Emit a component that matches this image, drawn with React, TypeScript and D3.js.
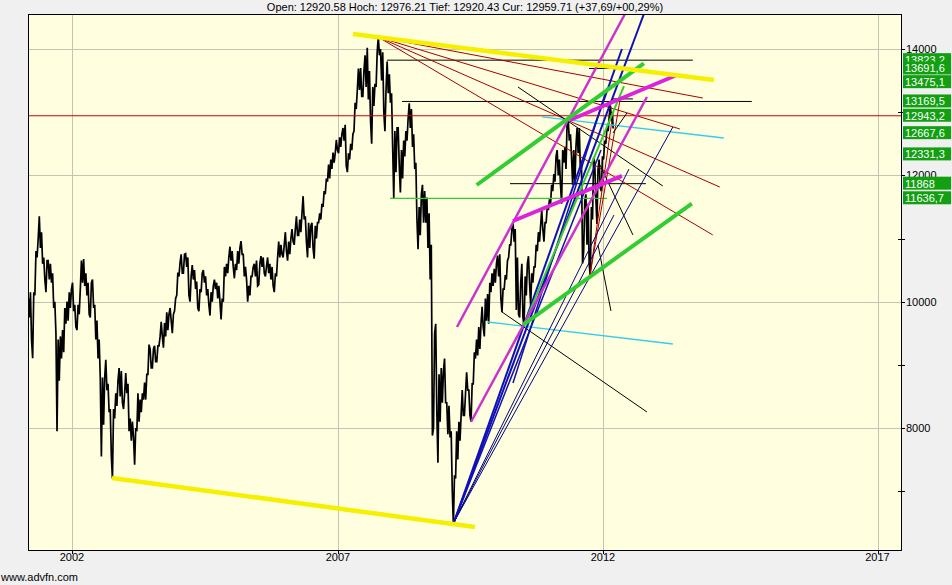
import * as d3 from "d3";

const W = 952;
const H = 585;
const PLOT = { left: 29, right: 901, top: 14, bottom: 550 };
const FONT = "'Liberation Sans', Arial, sans-serif";

// x axis: years, y axis: index points
const YEAR_TICKS = [2002, 2007, 2012, 2017];
const PRICE_TICKS = [7000, 8000, 9000, 10000, 11000, 12000, 13000, 14000];
const PRICE_LABELED = [8000, 10000, 12000, 14000];

const DATA_START = 2001.19; // 12 Mar 2001
const DATA_END = 2012.19; // 12 Mar 2012

// half-month [high, low] pairs
const Y2001 = [
  [10050, 9750], [10150, 9389], [10150, 9106], [10800, 10100], [11000, 10700], [11350, 10850],
  [11100, 10600], [10700, 10350], [10650, 10150], [10650, 10350], [10600, 10300], [10450, 9900],
  [10000, 9500], [9400, 7950], [9450, 8750], [9550, 9100], [9900, 9200], [10000, 9650],
  [10150, 9700], [10200, 9900],
];
const Y2002 = [
  [10300, 9850], [9950, 9600], [9950, 9550], [10200, 9800], [10650, 10300], [10673, 10250],
  [10450, 10100], [10300, 9800], [10300, 9750], [10350, 9900], [9950, 9400], [9700, 9100],
  [9400, 8800], [8800, 7550], [8800, 8050], [9080, 8600], [8700, 8250], [8300, 7550],
  [8300, 7200], [8550, 8150], [8750, 8350], [8950, 8500], [8900, 8400], [8550, 8300],
];
const Y2003 = [
  [8870, 8550], [8700, 7950], [8150, 7800], [8100, 7850], [8000, 7420], [8550, 7950],
  [8450, 8100], [8550, 8250], [8720, 8450], [8850, 8450], [9320, 8850], [9250, 8950],
  [9250, 8950], [9300, 9050], [9300, 9050], [9450, 9300], [9680, 9450], [9660, 9270],
  [9830, 9450], [9800, 9550], [9900, 9700], [9800, 9500], [10050, 9850], [10460, 10100],
];
const Y2004 = [
  [10620, 10400], [10750, 10450], [10750, 10450], [10760, 10550], [10700, 10100], [10400, 10000],
  [10580, 10350], [10500, 10200], [10320, 9900], [10200, 9850], [10450, 10150], [10500, 10300],
  [10400, 10100], [10200, 9950], [10150, 9780], [10250, 10000], [10350, 10200], [10300, 10050],
  [10250, 10000], [10050, 9720], [10550, 10000], [10600, 10400], [10700, 10450], [10870, 10650],
];
const Y2005 = [
  [10800, 10550], [10600, 10370], [10800, 10500], [10850, 10600], [10960, 10750], [10750, 10400],
  [10550, 10350], [10250, 10000], [10400, 10100], [10550, 10400], [10600, 10400], [10650, 10250],
  [10600, 10270], [10720, 10550], [10700, 10450], [10560, 10400], [10700, 10450], [10600, 10350],
  [10550, 10250], [10450, 10150], [10700, 10400], [10950, 10700], [10900, 10750], [10900, 10700],
];
const Y2006 = [
  [11100, 10800], [10950, 10650], [11000, 10750], [11150, 10950], [11150, 10900], [11350, 11050],
  [11300, 11050], [11400, 11100], [11670, 11300], [11350, 10950], [11250, 10700], [11200, 10850],
  [11250, 10850], [11200, 10680], [11250, 11000], [11400, 11250], [11550, 11300], [11750, 11500],
  [11950, 11700], [12170, 11900], [12250, 11950], [12360, 12100], [12350, 12200], [12560, 12400],
];
const Y2007 = [
  [12600, 12350], [12650, 12450], [12750, 12550], [12800, 12150], [12350, 12050], [12500, 12250],
  [12650, 12400], [13150, 12700], [13350, 13050], [13690, 13350], [13700, 13250], [13650, 13250],
  [13900, 13400], [14020, 13200], [13650, 12850], [13400, 12500], [13450, 13100], [13950, 13400],
  [14200, 13900], [14000, 13500], [13950, 13000], [13350, 12700], [13800, 13300], [13600, 13150],
];
const Y2008 = [
  [13300, 12450], [12700, 11634], [12750, 12050], [12750, 12150], [12400, 11730], [12550, 11950],
  [12700, 12300], [12900, 12550], [13140, 12750], [13050, 12450], [12650, 12100], [12200, 11300],
  [11500, 10830], [11700, 11050], [11850, 11250], [11750, 11250], [11650, 10850], [11400, 10350],
  [10900, 7880], [9500, 8000], [9650, 8250], [8850, 7450], [8950, 8100], [8900, 8400],
];
const Y2009 = [
  [9100, 8400], [8400, 7900], [8350, 7850], [7950, 7000], [7250, 6470], [7950, 7200],
  [8100, 7500], [8200, 7800], [8600, 8200], [8550, 8200], [8880, 8600], [8600, 8200],
  [8700, 8100], [9200, 8700], [9400, 9100], [9600, 9150], [9650, 9250], [9920, 9600],
  [10050, 9450], [10120, 9700], [10300, 9650], [10450, 10150], [10520, 10250], [10600, 10300],
];
const Y2010 = [
  [10730, 10400], [10750, 10050], [10200, 9835], [10420, 10200], [10650, 10350], [10900, 10700],
  [11150, 10900], [11258, 10950], [11150, 9870], [10700, 9800], [10300, 9750], [10600, 9750],
  [10400, 9614], [10600, 10100], [10720, 10300], [10450, 9940], [10550, 10300], [10900, 10550],
  [11100, 10800], [11200, 10950], [11450, 11150], [11250, 10950], [11500, 11250], [11620, 11450],
];
const Y2011 = [
  [11850, 11550], [12020, 11750], [12300, 11900], [12400, 12000], [12250, 11850], [12400, 11550],
  [12450, 12200], [12850, 12100], [12876, 12550], [12650, 12300], [12400, 11850], [12450, 11850],
  [12750, 12350], [12750, 12100], [12200, 10604], [11600, 10800], [11700, 10900], [11550, 10600],
  [11500, 10404], [12280, 11300], [12200, 11650], [12100, 11230], [12250, 11800], [12300, 11750],
];
const Y2012 = [[12550, 12250], [12760, 12500], [12950, 12700], [13100, 12850], [13000, 12740]];

// drawn tools: [year1, price1, year2, price2]
const YELLOW_LINES = [
  [2007.283, 14237, 2014.02, 13509],
  [2002.752, 7209, 2009.585, 6433],
];
const RED_FAN = [
  [2007.755, 14190, 2013.818, 13224],
  [2007.755, 14190, 2013.4, 12734],
  [2007.755, 14190, 2014.127, 11815],
  [2007.755, 14190, 2014.0, 11056],
];
const RED_STEEP = [
  [2011.755, 10422, 2012.164, 12876],
  [2011.755, 10422, 2012.31, 13193],
];
const CURRENT = 12943.2;
const BLACK_LEVELS = [
  [2007.925, 13823.2, 2013.636, 13823.2],
  [2011.736, 13691.6, 2012.636, 13691.6],
  [2008.208, 13169.5, 2014.71, 13169.5],
  [2012.164, 13210, 2012.545, 13210],
  [2010.245, 11868, 2012.782, 11868],
];
const GREEN_LEVEL = [2007.981, 11636.7, 2012.073, 11636.7];
const MAGENTA_THICK = [
  [2011.377, 12876, 2013.345, 13588],
  [2010.302, 11277, 2012.345, 11990],
];
const MAGENTA_THIN = [
  [2009.245, 9599, 2012.4, 14554],
  [2009.509, 8095, 2012.8, 13240],
];
const GREEN_THICK = [
  [2009.617, 11847, 2012.745, 13774],
  [2010.491, 9631, 2013.618, 11554],
];
const GREEN_THIN = [[2010.509, 9631, 2012.382, 13414]];
const BLUE_THICK = [
  [2009.189, 6512, 2012.745, 14554],
  [2009.189, 6512, 2012.345, 14000],
];
const BLUE_MID = [
  [2009.189, 6512, 2011.962, 12401],
  [2010.302, 8713, 2012.073, 13383],
];
const NAVY_THIN = [
  [2009.189, 6512, 2013.273, 12765],
  [2009.189, 6512, 2012.473, 12100],
  [2009.189, 6512, 2012.2, 11372],
];
const CYAN_LINES = [
  [2010.849, 12924, 2014.2, 12591],
  [2009.83, 9678, 2013.273, 9330],
];
const BLACK_DIAG = [
  [2010.094, 9837, 2012.8, 8254],
  [2010.396, 13398, 2013.09, 11831],
  [2011.943, 12164, 2012.545, 11056],
  [2011.906, 10897, 2012.145, 9853],
  [2012.182, 12670, 2012.436, 12987],
];

const PRICE_LABELS = [13823.2, 13691.6, 13475.1, 13169.5, 12943.2, 12667.6, 12331.3, 11868, 11636.7];

const TITLE = "Open: 12920.58 Hoch: 12976.21 Tief: 12920.43 Cur: 12959.71 (+37,69/+00,29%)";

function fmtLabel(v: number) {
  return Number.isInteger(v) ? String(v) : v.toFixed(1).replace(".", ",");
}

export default function App() {
  const x = d3.scaleLinear().domain(YEAR_TICKS).range([72, 338, 603, 877.5]);
  const y = d3.scaleLinear().domain([8000, 14000]).range([428, 49]);

  const bars = [...Y2001, ...Y2002, ...Y2003, ...Y2004, ...Y2005, ...Y2006, ...Y2007, ...Y2008, ...Y2009, ...Y2010, ...Y2011, ...Y2012];
  const pts: [number, number][] = [];
  const n = bars.length;
  const mid = (i: number) => (bars[i][0] + bars[i][1]) / 2;
  for (let i = 0; i < n; i++) {
    const k = 4 + i;
    let t0 = 2001 + k / 24;
    let t1 = t0 + 1 / 24;
    if (i === 0) t0 = DATA_START;
    if (i === n - 1) t1 = DATA_END;
    const up = i < n - 1 ? mid(i + 1) > mid(i) : mid(i) > mid(i - 1);
    const [hi, lo] = bars[i];
    pts.push([t0 + (t1 - t0) * 0.25, up ? lo : hi]);
    pts.push([t0 + (t1 - t0) * 0.75, up ? hi : lo]);
  }
  const priceLine = d3
    .line<[number, number]>()
    .x((d) => x(d[0]))
    .y((d) => y(d[1]))(pts);

  const seg = (l: number[], stroke: string, w: number, key: string) => (
    <line
      key={key}
      x1={x(l[0])}
      y1={y(l[1])}
      x2={x(l[2])}
      y2={y(l[3])}
      stroke={stroke}
      strokeWidth={w}
    />
  );

  return (
    <div style={{ position: "fixed", left: 0, top: 0 }}>
      <svg width={W} height={H} style={{ display: "block", background: "#f0f0f0" }} fontFamily={FONT}>
        <defs>
          <clipPath id="plot">
            <rect x={PLOT.left} y={PLOT.top} width={PLOT.right - PLOT.left} height={PLOT.bottom - PLOT.top} />
          </clipPath>
        </defs>
        <text x={465} y={11} fontSize={11} textAnchor="middle" fill="#000">
          {TITLE}
        </text>
        <rect
          x={PLOT.left}
          y={PLOT.top}
          width={PLOT.right - PLOT.left}
          height={PLOT.bottom - PLOT.top}
          fill="#ffffe0"
        />
        {/* grid */}
        <g stroke="#c4c4b4" strokeWidth={1}>
          {YEAR_TICKS.map((t) => (
            <line key={t} x1={Math.round(x(t)) + 0.5} x2={Math.round(x(t)) + 0.5} y1={PLOT.top} y2={PLOT.bottom} />
          ))}
          {PRICE_LABELED.map((p) => (
            <line key={p} x1={PLOT.left} x2={PLOT.right} y1={Math.round(y(p)) + 0.5} y2={Math.round(y(p)) + 0.5} />
          ))}
        </g>

        <g clipPath="url(#plot)">
          <path d={priceLine ?? ""} fill="none" stroke="#000" strokeWidth={1.7} />

          {seg([PLOT.left, CURRENT, PLOT.right, CURRENT].map((v, i) => (i % 2 === 0 ? x.invert(v) : v)), "#cc0000", 1, "cur")}
          {BLACK_LEVELS.map((l, i) => seg(l, "#000", 1, "bl" + i))}
          {seg(GREEN_LEVEL, "#33cc33", 1.2, "gl")}
          {RED_FAN.map((l, i) => seg(l, "#a80000", 1, "rf" + i))}
          {RED_STEEP.map((l, i) => seg(l, "#a80000", 1, "rs" + i))}
          {CYAN_LINES.map((l, i) => seg(l, "#33ccee", 1.3, "cy" + i))}
          {BLACK_DIAG.map((l, i) => seg(l, "#000", 1, "bd" + i))}
          {NAVY_THIN.map((l, i) => seg(l, "#000080", 1, "nv" + i))}
          {BLUE_MID.map((l, i) => seg(l, "#1010b0", 1.5, "bm" + i))}
          {BLUE_THICK.map((l, i) => seg(l, "#1010b8", 2, "bt" + i))}
          {GREEN_THIN.map((l, i) => seg(l, "#33cc33", 2, "gt" + i))}
          {MAGENTA_THIN.map((l, i) => seg(l, "#cc33cc", 2.5, "mt" + i))}
          {MAGENTA_THICK.map((l, i) => seg(l, "#dd22dd", 4, "mk" + i))}
          {GREEN_THICK.map((l, i) => seg(l, "#33cc33", 4, "gk" + i))}
          {YELLOW_LINES.map((l, i) => seg(l, "#f4f000", 4.5, "yl" + i))}
        </g>

        {/* frame */}
        <g stroke="#000" strokeWidth={1} fill="none">
          <line x1={PLOT.left - 0.5} x2={PLOT.right + 0.5} y1={PLOT.top + 0.5} y2={PLOT.top + 0.5} />
          <line x1={PLOT.left - 0.5} x2={PLOT.right + 0.5} y1={PLOT.bottom + 0.5} y2={PLOT.bottom + 0.5} />
          <line x1={PLOT.left - 0.5} x2={PLOT.left - 0.5} y1={PLOT.top} y2={PLOT.bottom + 1} />
          <line x1={PLOT.right + 0.5} x2={PLOT.right + 0.5} y1={PLOT.top} y2={PLOT.bottom + 1} />
          {PRICE_TICKS.map((p) => (
            <line
              key={p}
              x1={PRICE_LABELED.includes(p) ? PLOT.right : PLOT.right - 3}
              x2={PLOT.right + 4}
              y1={Math.round(y(p)) + 0.5}
              y2={Math.round(y(p)) + 0.5}
            />
          ))}
          {YEAR_TICKS.map((t) => (
            <line key={t} x1={Math.round(x(t)) + 0.5} x2={Math.round(x(t)) + 0.5} y1={PLOT.bottom} y2={PLOT.bottom + 4} />
          ))}
        </g>

        {/* axis labels */}
        {PRICE_LABELED.map((p) => (
          <text key={p} x={PLOT.right + 5} y={y(p) + 4} fontSize={11} fill="#000">
            {p}
          </text>
        ))}
        {YEAR_TICKS.map((t) => (
          <text key={t} x={x(t)} y={561} fontSize={11} textAnchor="middle" fill="#000">
            {t}
          </text>
        ))}

        {/* level labels */}
        {PRICE_LABELS.map((v) => (
          <g key={v}>
            <rect x={PLOT.right + 2} y={y(v) - 7} width={48} height={13} fill="#12a012" />
            <text x={PLOT.right + 4} y={y(v) + 4} fontSize={11} fill="#fff">
              {fmtLabel(v)}
            </text>
          </g>
        ))}

        <text x={1} y={581} fontSize={11} fill="#000">
          www.advfn.com
        </text>
      </svg>
    </div>
  );
}
